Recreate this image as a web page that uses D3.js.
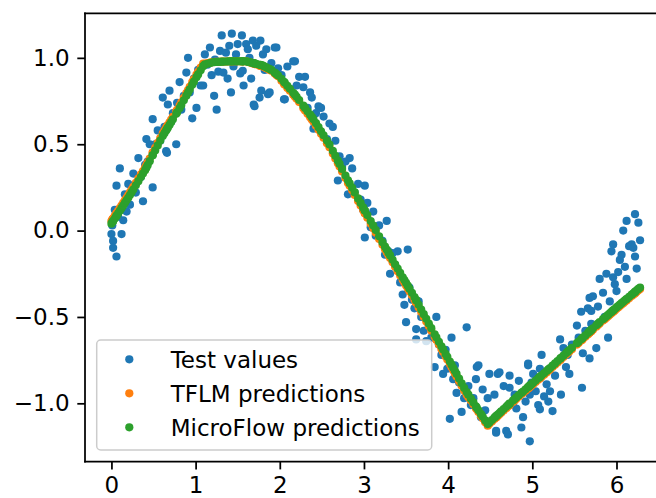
<!DOCTYPE html>
<html lang="en">
<head>
<meta charset="UTF-8">
<title>Sine model: test values vs. predictions</title>
<style>
  body { margin: 0; background: #fff; }
  svg { display: block; font-family: "DejaVu Sans", sans-serif; }
</style>
</head>
<body>
<svg width="656" height="498"></svg>
<script src="https://d3js.org/d3.v7.min.js"></script>
<script>
  // test inputs
  const xs = [
    0.00,0.01,0.02,0.02,0.04,0.06,0.06,0.08,0.10,0.12,0.14,0.16,0.18,0.20,0.22,0.24,
    0.26,0.29,0.32,0.35,0.375,0.40,0.415,0.43,0.455,0.49,0.49,
    0.52,0.55,0.58,0.61,0.63,0.65,0.66,0.67,0.69,0.71,0.73,
    0.77,0.78,0.81,0.83,0.86,0.89,0.91,0.93,0.96,0.98,
    1.01,1.03,1.06,1.09,1.11,1.14,1.17,1.19,1.22,1.23,1.25,
    1.27,1.29,1.31,1.33,1.36,1.38,1.40,1.42,1.43,1.45,1.48,
    1.50,1.53,1.55,1.56,1.57,1.60,1.62,1.64,1.66,1.68,1.69,1.70,1.72,
    1.76,1.77,1.78,1.80,1.82,1.84,1.86,1.88,1.90,1.94,1.96,1.98,
    2.02,2.05,2.06,2.09,2.12,2.16,2.18,2.20,2.23,
    2.28,2.30,2.33,2.36,2.38,2.40,2.43,2.46,2.49,
    2.52,2.56,2.59,2.63,2.66,2.69,2.71,2.74,
    2.78,2.81,2.83,2.86,2.89,2.93,2.96,2.99,
    3.01,3.01,3.04,3.08,3.11,3.14,3.18,3.22,3.25,
    3.27,3.29,3.31,3.34,3.37,3.40,3.43,3.46,3.48,3.50,3.52,
    3.54,3.57,3.60,3.62,3.62,3.65,3.68,3.71,3.74,
    3.77,3.80,3.84,3.86,3.89,3.92,3.94,3.97,3.99,
    4.02,4.04,4.06,4.08,4.10,4.13,4.16,4.19,4.22,4.24,
    4.27,4.30,4.33,4.34,4.36,4.39,4.41,4.44,4.47,4.49,
    4.52,4.55,4.57,4.57,4.59,4.61,4.63,4.66,4.69,4.71,4.73,4.73,
    4.77,4.79,4.81,4.84,4.87,4.89,4.92,4.95,4.95,4.97,4.97,4.99,
    5.01,5.04,5.07,5.09,5.09,5.11,5.14,5.17,5.19,5.21,5.24,
    5.27,5.30,5.33,5.34,5.37,5.40,5.42,5.44,5.47,
    5.53,5.55,5.58,5.59,5.60,5.63,5.66,5.68,5.68,5.70,5.70,5.72,
    5.76,5.78,5.80,5.84,5.86,5.88,5.90,5.92,5.94,5.96,5.96,5.98,
    6.00,6.02,6.04,6.06,6.08,6.10,6.12,6.12,6.15,6.18,6.20,6.22,6.22,6.24,6.26,6.28
  ];

  // noisy sine targets
  const testValues = [
    -0.02,0.03,-0.06,-0.10,0.12,-0.15,0.26,0.08,0.36,-0.02,0.06,0.21,0.11,0.27,0.15,0.25,
    0.33,0.22,0.42,0.31,0.17,0.38,0.53,0.40,0.50,0.25,0.645,
    0.50,0.58,0.52,0.77,0.60,0.46,0.45,0.73,0.81,0.63,0.68,
    0.50,0.74,0.86,0.70,0.78,0.915,1.00,0.80,0.65,0.88,
    0.71,0.93,0.84,0.84,1.02,0.96,1.06,0.90,0.78,0.99,0.70,
    0.92,1.04,1.13,0.915,1.03,0.88,1.07,0.80,1.14,0.95,1.02,
    1.08,0.91,1.13,0.925,0.84,1.08,1.05,1.00,0.88,1.10,0.73,0.72,1.07,
    0.77,1.10,0.81,1.02,0.93,1.05,0.79,0.80,0.97,1.06,1.06,0.94,
    0.90,0.76,0.76,0.95,0.82,0.98,0.98,0.84,0.89,
    0.83,0.89,0.71,0.80,0.77,0.59,0.68,0.72,0.71,
    0.66,0.53,0.62,0.60,0.52,0.29,0.43,0.37,
    0.40,0.21,0.42,0.36,0.22,0.27,0.18,0.12,
    0.26,-0.04,0.16,0.02,0.11,-0.03,0.03,-0.06,-0.14,
    0.056,-0.12,-0.25,-0.13,-0.20,-0.12,-0.30,-0.37,-0.43,-0.53,-0.11,
    -0.33,-0.40,-0.45,-0.57,-0.63,-0.41,-0.50,-0.58,-0.64,
    -0.55,-0.62,-0.79,-0.50,-0.66,-0.72,-0.83,-0.69,-0.80,
    -1.09,-0.62,-0.86,-0.78,-0.94,-0.88,-1.05,-0.97,-0.56,-0.90,
    -1.01,-0.97,-0.86,-0.79,-0.78,-1.08,-0.92,-1.04,-0.97,-0.83,
    -1.10,-0.95,-1.17,-1.16,-0.83,-0.82,-1.05,-0.90,-1.16,-1.18,-0.84,-0.91,
    -1.00,-0.95,-1.03,-0.87,-1.14,-1.08,-0.99,-0.78,-0.77,-1.22,-0.95,-0.88,
    -0.83,-0.93,-1.01,-0.80,-1.035,-0.72,-0.96,-0.89,-0.99,-0.93,-1.045,
    -0.84,-0.76,-0.63,-0.95,-0.68,-0.79,-0.72,-0.83,-0.66,
    -0.55,-0.62,-0.47,-0.91,-0.71,-0.58,-0.45,-0.39,-0.74,-0.465,-0.54,-0.38,
    -0.68,-0.44,-0.28,-0.36,-0.50,-0.25,-0.62,-0.41,-0.12,-0.27,-0.08,-0.31,
    -0.35,-0.24,-0.17,-0.14,0.00,-0.21,0.056,-0.28,-0.09,-0.08,-0.10,0.095,-0.15,-0.22,0.046,-0.056
  ];

  // TensorFlow Lite Micro output for each input
  const tflmPredictions = [
    0.055,0.063,0.070,0.070,0.085,0.100,0.100,0.115,0.130,0.145,0.160,0.175,0.190,0.205,0.221,0.237,
    0.253,0.277,0.301,0.325,0.345,0.365,0.379,0.394,0.417,0.451,0.451,
    0.479,0.508,0.536,0.563,0.579,0.595,0.603,0.611,0.627,0.643,0.659,
    0.691,0.699,0.724,0.742,0.769,0.796,0.814,0.832,0.859,0.877,
    0.903,0.919,0.943,0.967,0.966,0.969,0.972,0.974,0.976,0.977,0.977,
    0.977,0.977,0.978,0.978,0.979,0.979,0.980,0.980,0.980,0.980,0.980,
    0.980,0.980,0.980,0.980,0.980,0.980,0.977,0.974,0.971,0.968,0.967,0.966,0.962,
    0.955,0.954,0.953,0.950,0.945,0.940,0.935,0.930,0.925,0.909,0.901,0.893,
    0.867,0.849,0.844,0.826,0.809,0.786,0.775,0.763,0.744,
    0.708,0.695,0.676,0.656,0.643,0.630,0.607,0.584,0.560,
    0.537,0.506,0.483,0.447,0.418,0.390,0.371,0.342,
    0.304,0.276,0.259,0.233,0.206,0.171,0.145,0.119,
    0.101,0.101,0.075,0.040,0.014,-0.012,-0.048,-0.082,-0.108,
    -0.125,-0.142,-0.159,-0.184,-0.210,-0.235,-0.260,-0.285,-0.301,-0.318,-0.334,
    -0.351,-0.375,-0.400,-0.418,-0.418,-0.445,-0.472,-0.499,-0.526,
    -0.553,-0.580,-0.615,-0.633,-0.659,-0.685,-0.703,-0.729,-0.746,
    -0.773,-0.791,-0.809,-0.827,-0.845,-0.872,-0.899,-0.926,-0.950,-0.965,
    -0.983,-1.005,-1.028,-1.035,-1.050,-1.073,-1.087,-1.109,-1.130,-1.119,
    -1.105,-1.091,-1.082,-1.082,-1.073,-1.064,-1.055,-1.041,-1.028,-1.019,-1.010,-1.010,
    -0.992,-0.983,-0.974,-0.961,-0.948,-0.940,-0.927,-0.914,-0.914,-0.906,-0.906,-0.897,
    -0.889,-0.876,-0.863,-0.855,-0.855,-0.846,-0.834,-0.821,-0.812,-0.804,-0.790,
    -0.777,-0.763,-0.750,-0.745,-0.732,-0.718,-0.709,-0.700,-0.687,
    -0.660,-0.651,-0.637,-0.633,-0.628,-0.615,-0.601,-0.592,-0.592,-0.583,-0.583,-0.574,
    -0.556,-0.547,-0.538,-0.521,-0.513,-0.504,-0.496,-0.487,-0.479,-0.470,-0.470,-0.462,
    -0.453,-0.445,-0.437,-0.428,-0.420,-0.412,-0.404,-0.404,-0.391,-0.379,-0.371,-0.363,-0.363,-0.354,-0.346,-0.338
  ];

  // MicroFlow output for each input
  const microflowPredictions = [
    0.040,0.048,0.055,0.055,0.070,0.085,0.085,0.100,0.115,0.130,0.145,0.160,0.175,0.190,0.206,0.222,
    0.238,0.262,0.286,0.310,0.330,0.350,0.364,0.379,0.402,0.436,0.436,
    0.464,0.493,0.521,0.548,0.564,0.580,0.588,0.596,0.612,0.628,0.644,
    0.676,0.684,0.709,0.727,0.754,0.781,0.799,0.817,0.844,0.862,
    0.888,0.904,0.928,0.952,0.962,0.966,0.970,0.973,0.975,0.976,0.976,
    0.977,0.977,0.978,0.978,0.979,0.979,0.980,0.980,0.980,0.980,0.980,
    0.980,0.980,0.980,0.980,0.980,0.980,0.978,0.975,0.973,0.970,0.969,0.968,0.965,
    0.960,0.959,0.958,0.955,0.950,0.945,0.940,0.935,0.930,0.914,0.906,0.898,
    0.879,0.861,0.856,0.838,0.821,0.798,0.787,0.775,0.756,
    0.723,0.710,0.691,0.671,0.658,0.645,0.622,0.599,0.575,
    0.552,0.521,0.498,0.462,0.433,0.405,0.386,0.357,
    0.319,0.291,0.274,0.248,0.221,0.186,0.160,0.134,
    0.116,0.116,0.090,0.055,0.029,0.003,-0.033,-0.067,-0.093,
    -0.110,-0.127,-0.144,-0.169,-0.195,-0.220,-0.245,-0.270,-0.286,-0.303,-0.319,
    -0.336,-0.360,-0.385,-0.403,-0.403,-0.430,-0.457,-0.484,-0.511,
    -0.538,-0.565,-0.600,-0.618,-0.644,-0.670,-0.688,-0.714,-0.731,
    -0.758,-0.776,-0.794,-0.812,-0.830,-0.857,-0.884,-0.911,-0.935,-0.950,
    -0.973,-0.995,-1.018,-1.025,-1.040,-1.063,-1.077,-1.099,-1.120,-1.111,
    -1.097,-1.083,-1.074,-1.074,-1.065,-1.056,-1.047,-1.033,-1.020,-1.011,-1.002,-1.002,
    -0.984,-0.975,-0.966,-0.953,-0.940,-0.932,-0.919,-0.906,-0.906,-0.898,-0.898,-0.889,
    -0.881,-0.868,-0.855,-0.847,-0.847,-0.838,-0.826,-0.813,-0.804,-0.796,-0.782,
    -0.769,-0.755,-0.742,-0.737,-0.724,-0.710,-0.701,-0.692,-0.679,
    -0.652,-0.643,-0.629,-0.625,-0.620,-0.607,-0.593,-0.584,-0.584,-0.575,-0.575,-0.566,
    -0.548,-0.539,-0.530,-0.513,-0.505,-0.496,-0.488,-0.479,-0.471,-0.462,-0.462,-0.454,
    -0.445,-0.437,-0.429,-0.420,-0.412,-0.404,-0.396,-0.396,-0.383,-0.371,-0.363,-0.355,-0.355,-0.346,-0.338,-0.330
  ];

  const xTicks = [0, 1, 2, 3, 4, 5, 6];
  const yTicks = [-1.0, -0.5, 0.0, 0.5, 1.0];
  const labels = ["Test values", "TFLM predictions", "MicroFlow predictions"];
  const colors = ["#1f77b4", "#ff7f0e", "#2ca02c"];

  const series = [testValues, tflmPredictions, microflowPredictions].map((vals, i) => ({
    label: labels[i],
    color: colors[i],
    points: xs.map((x, j) => [x, vals[j]])
  }));

  // plot box; the right edge sits just past the canvas
  const plotL = 85, plotT = 13.3, plotB = 461.7, plotR = 666.5;
  const fontSize = 23;
  const tickLen = 7.7, tickPad = 7.7, lineW = 1.75;
  const dotR = 4.1;

  // autoscale with 5% margins, like matplotlib
  const xExt = d3.extent(xs);
  const xPad = (xExt[1] - xExt[0]) * 0.05;
  const yExt = d3.extent(testValues.concat(tflmPredictions, microflowPredictions));
  const yPad = (yExt[1] - yExt[0]) * 0.05;

  const x = d3.scaleLinear().domain([xExt[0] - xPad, xExt[1] + xPad]).range([plotL, plotR]);
  const y = d3.scaleLinear().domain([yExt[0] - yPad, yExt[1] + yPad]).range([plotB, plotT]);

  const svg = d3.select("svg");

  // scatter layers, drawn in series order
  series.forEach(s => {
    svg.append("g")
      .selectAll("circle")
      .data(s.points)
      .join("circle")
      .attr("cx", d => x(d[0]))
      .attr("cy", d => y(d[1]))
      .attr("r", dotR)
      .attr("fill", s.color);
  });

  // axes
  const xAxis = svg.append("g")
    .attr("transform", `translate(0,${plotB})`)
    .call(d3.axisBottom(x).tickValues(xTicks).tickFormat(d3.format("d"))
      .tickSize(tickLen).tickPadding(tickPad).tickSizeOuter(0));
  const yAxis = svg.append("g")
    .attr("transform", `translate(${plotL},0)`)
    .call(d3.axisLeft(y).tickValues(yTicks).tickFormat(d3.format(".1f"))
      .tickSize(tickLen).tickPadding(tickPad).tickSizeOuter(0));

  [xAxis, yAxis].forEach(g => {
    g.select(".domain").remove();
    g.attr("font-family", "DejaVu Sans, sans-serif").attr("font-size", fontSize);
    g.selectAll(".tick line").attr("stroke", "#000").attr("stroke-width", lineW);
    g.selectAll(".tick text").attr("fill", "#000");
  });

  // spines
  const spines = [
    [plotL, plotT, plotL, plotB],
    [plotL, plotB, plotR, plotB],
    [plotL, plotT, plotR, plotT],
    [plotR, plotT, plotR, plotB]
  ];
  svg.append("g")
    .selectAll("line")
    .data(spines)
    .join("line")
    .attr("x1", d => d[0]).attr("y1", d => d[1])
    .attr("x2", d => d[2]).attr("y2", d => d[3])
    .attr("stroke", "#000")
    .attr("stroke-width", lineW)
    .attr("stroke-linecap", "square");

  // legend, lower left
  const legend = svg.append("g");
  legend.append("rect")
    .attr("x", 96.7).attr("y", 340)
    .attr("width", 335).attr("height", 110)
    .attr("rx", 4)
    .attr("fill", "#fff").attr("fill-opacity", 0.8)
    .attr("stroke", "#cccccc").attr("stroke-width", 1.5);

  const rowY = i => 359.3 + i * 34;
  legend.selectAll("circle")
    .data(series)
    .join("circle")
    .attr("cx", 129.3)
    .attr("cy", (d, i) => rowY(i))
    .attr("r", dotR)
    .attr("fill", d => d.color);
  legend.selectAll("text")
    .data(series)
    .join("text")
    .attr("x", 170.7)
    .attr("y", (d, i) => rowY(i) + fontSize * 0.36)
    .attr("font-size", fontSize)
    .attr("fill", "#000")
    .text(d => d.label);
</script>
</body>
</html>
